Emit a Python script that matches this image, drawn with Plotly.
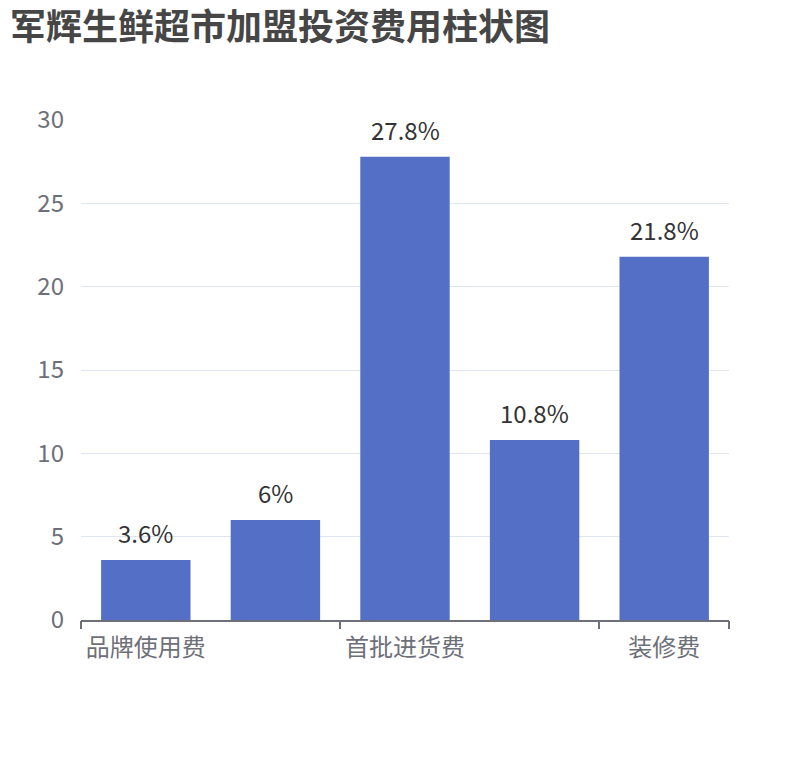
import plotly.graph_objects as go

# chart data
categories = ["品牌使用费", "加盟费", "首批进货费", "设备费", "装修费"]
values = [3.6, 6, 27.8, 10.8, 21.8]
value_labels = ["3.6%", "6%", "27.8%", "10.8%", "21.8%"]
shown_labels = ["品牌使用费", "", "首批进货费", "", "装修费"]
y_ticks = [0, 5, 10, 15, 20, 25, 30]

font_family = "Noto Sans CJK SC, Microsoft YaHei, sans-serif"
x_pos = list(range(len(categories)))

bars = go.Bar(
    x=x_pos,
    y=values,
    marker=dict(color="#5470c6", line=dict(width=0)),
    hoverinfo="skip",
)

# invisible trace on a second axis, only to draw the boundary ticks
boundary = go.Scatter(x=[-0.5, 4.5], y=[0, 0], mode="markers",
                      marker=dict(opacity=0), xaxis="x2", hoverinfo="skip",
                      showlegend=False)

# value labels above the bars
labels = [
    dict(x=xv, y=yv, text=t, xref="x", yref="y", showarrow=False,
         yanchor="bottom", yshift=8,
         font=dict(size=24, color="#333333", family=font_family))
    for xv, yv, t in zip(x_pos, values, value_labels)
]

layout = go.Layout(
    width=810,
    height=760,
    paper_bgcolor="white",
    plot_bgcolor="white",
    showlegend=False,
    margin=dict(l=73, r=89, t=112, b=148),
    bargap=0.31,
    annotations=labels,
    title=dict(
        text="<b>军辉生鲜超市加盟投资费用柱状图</b>",
        font=dict(size=36, color="#464646", family=font_family),
        xref="container", x=2 / 810, xanchor="left",
        yref="container", y=1 - 19 / 760, yanchor="middle",
    ),
    xaxis=dict(
        range=[-0.5, 4.5],
        tickmode="array",
        tickvals=x_pos,
        ticktext=shown_labels,
        ticks="",
        showgrid=False,
        zeroline=False,
        showline=True,
        linecolor="#6E7079",
        linewidth=1.5,
        ticklabelstandoff=5,
        tickfont=dict(size=24, color="#6E7079", family=font_family),
        fixedrange=True,
    ),
    xaxis2=dict(
        overlaying="x",
        side="bottom",
        range=[-0.5, 4.5],
        tickmode="array",
        tickvals=[-0.5, 1.5, 3.5, 4.5],
        ticktext=["", "", "", ""],
        ticks="outside",
        ticklen=8,
        tickwidth=1.5,
        tickcolor="#6E7079",
        showgrid=False,
        zeroline=False,
        showticklabels=False,
    ),
    yaxis=dict(
        range=[0, 30],
        tickmode="array",
        tickvals=y_ticks,
        showgrid=True,
        gridcolor="#E0E6F1",
        gridwidth=1.2,
        zeroline=False,
        showline=False,
        ticks="",
        ticklabelstandoff=16,
        tickfont=dict(size=24, color="#6E7079", family=font_family),
    ),
)

fig = go.Figure(data=[bars, boundary], layout=layout)
fig.write_html("out.html")
